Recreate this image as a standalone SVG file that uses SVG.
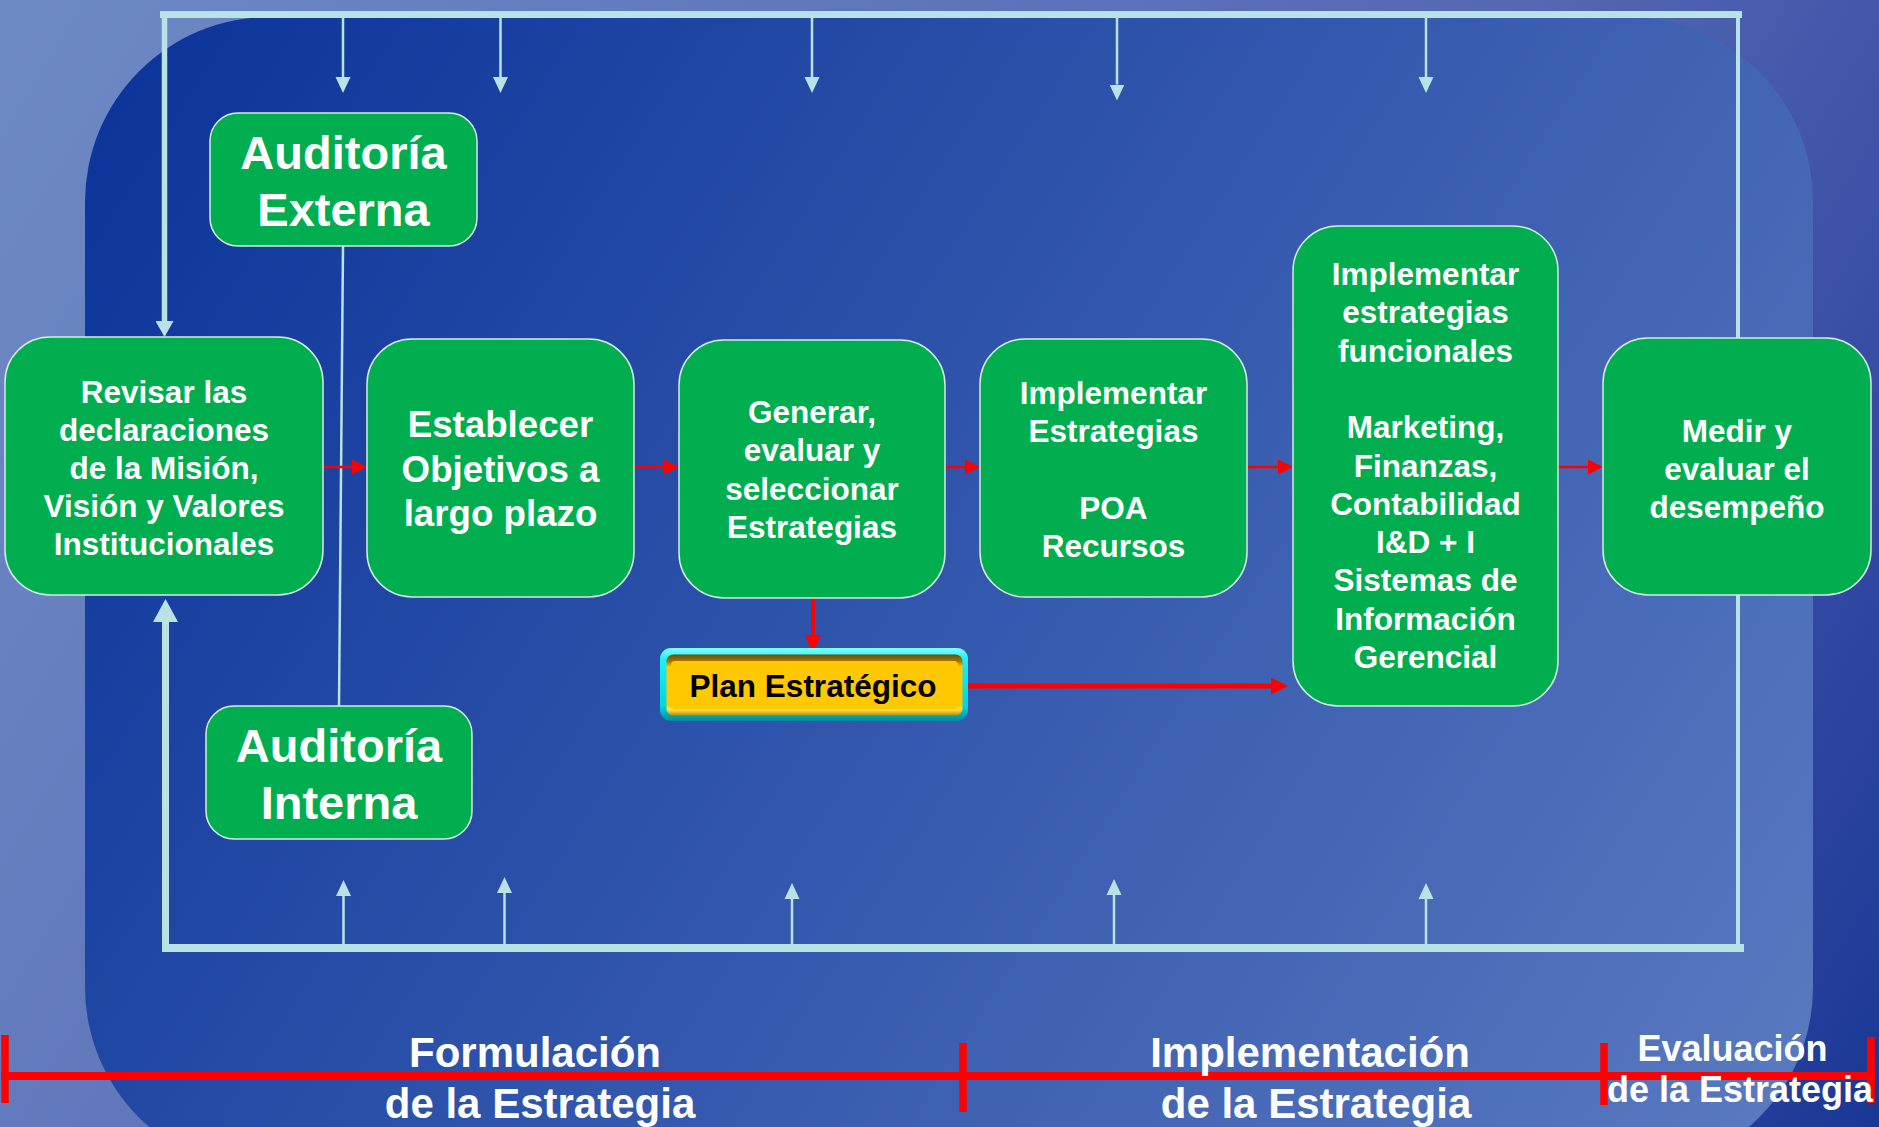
<svg xmlns="http://www.w3.org/2000/svg" width="1879" height="1127" viewBox="0 0 1879 1127">
<defs>
  <linearGradient id="bgOuter" gradientUnits="userSpaceOnUse" x1="0" y1="0" x2="1879" y2="1127">
    <stop offset="0" stop-color="#6e8ac5"/>
    <stop offset="0.6" stop-color="#5468b3"/>
    <stop offset="0.85" stop-color="#3349a3"/>
    <stop offset="1" stop-color="#1a3795"/>
  </linearGradient>
  <linearGradient id="bgInner" gradientUnits="userSpaceOnUse" x1="85" y1="17" x2="1813" y2="1127">
    <stop offset="0" stop-color="#0a3399"/>
    <stop offset="1" stop-color="#5a7ac0"/>
  </linearGradient>
  <linearGradient id="cyanG" x1="0" y1="0" x2="0" y2="1">
    <stop offset="0" stop-color="#80ffff"/>
    <stop offset="0.15" stop-color="#1ef0f2"/>
    <stop offset="0.8" stop-color="#00d6e0"/>
    <stop offset="1" stop-color="#008a9a"/>
  </linearGradient>
  <linearGradient id="goldG" x1="0" y1="0" x2="0" y2="1">
    <stop offset="0" stop-color="#6b4c00"/>
    <stop offset="0.12" stop-color="#a87a00"/>
    <stop offset="0.2" stop-color="#ffc800"/>
    <stop offset="0.84" stop-color="#ffc800"/>
    <stop offset="0.9" stop-color="#ffe650"/>
    <stop offset="1" stop-color="#c08a00"/>
  </linearGradient>
  <marker id="hL" markerUnits="userSpaceOnUse" markerWidth="16" markerHeight="16" viewBox="0 -8 16 16" refX="0" refY="0" orient="auto">
    <path d="M0,-7.5 L16,0 L0,7.5 Z" fill="#b9e2e6"/>
  </marker>
  <marker id="hLbig" markerUnits="userSpaceOnUse" markerWidth="16" markerHeight="18" viewBox="0 -9 16 18" refX="0" refY="0" orient="auto">
    <path d="M0,-9 L16,0 L0,9 Z" fill="#b9e2e6"/>
  </marker>
  <marker id="hLhuge" markerUnits="userSpaceOnUse" markerWidth="23" markerHeight="25" viewBox="0 -12.5 23 25" refX="0" refY="0" orient="auto">
    <path d="M0,-12.5 L23,0 L0,12.5 Z" fill="#b9e2e6"/>
  </marker>
  <marker id="hR" markerUnits="userSpaceOnUse" markerWidth="15" markerHeight="15" viewBox="0 -7.5 15 15" refX="0" refY="0" orient="auto">
    <path d="M0,-7.5 L15,0 L0,7.5 Z" fill="#ff0000"/>
  </marker>
  <marker id="hRbig" markerUnits="userSpaceOnUse" markerWidth="17" markerHeight="17" viewBox="0 -8.5 17 17" refX="0" refY="0" orient="auto">
    <path d="M0,-8.5 L17,0 L0,8.5 Z" fill="#ff0000"/>
  </marker>
</defs>
<style>
  .box { fill:#00ae4f; stroke:#d5ece0; stroke-width:1.5; }
  .t { font-family:"Liberation Sans", Arial, sans-serif; font-weight:bold; fill:#ffffff; text-anchor:middle; }
  .s { font-size:31.5px; }
  .m { font-size:36.7px; }
  .l { font-size:47px; }
  .lab { font-size:42px; }
  .lab2 { font-size:36px; }
  .light { stroke:#b9e2e6; fill:none; }
  .red { stroke:#ff0000; fill:none; }
</style>

<g id="background">
  <rect x="0" y="0" width="1879" height="1127" fill="url(#bgOuter)"/>
  <rect x="85" y="17" width="1728" height="1155" rx="185" ry="185" fill="url(#bgInner)"/>
</g>

<g id="connectors">
  <!-- feedback frame -->
  <line class="light" x1="160" y1="14.5" x2="1742" y2="14.5" stroke-width="7"/>
  <line class="light" x1="1738" y1="14" x2="1738" y2="952" stroke-width="4"/>
  <line class="light" x1="162" y1="948" x2="1744" y2="948" stroke-width="8"/>
  <line class="light" x1="164.5" y1="14" x2="164.5" y2="321" stroke-width="5.5" marker-end="url(#hLbig)"/>
  <line class="light" x1="165.5" y1="952" x2="165.5" y2="622" stroke-width="7" marker-end="url(#hLhuge)"/>
  <!-- down arrows from top bar -->
  <line class="light" x1="343" y1="18" x2="343" y2="77" stroke-width="2.5" marker-end="url(#hL)"/>
  <line class="light" x1="500.5" y1="18" x2="500.5" y2="77" stroke-width="2.5" marker-end="url(#hL)"/>
  <line class="light" x1="812" y1="18" x2="812" y2="77" stroke-width="2.5" marker-end="url(#hL)"/>
  <line class="light" x1="1117" y1="18" x2="1117" y2="84.5" stroke-width="2.5" marker-end="url(#hL)"/>
  <line class="light" x1="1426" y1="18" x2="1426" y2="77" stroke-width="2.5" marker-end="url(#hL)"/>
  <!-- up arrows from bottom bar -->
  <line class="light" x1="343.5" y1="945" x2="343.5" y2="896" stroke-width="2.5" marker-end="url(#hL)"/>
  <line class="light" x1="504.5" y1="945" x2="504.5" y2="893" stroke-width="2.5" marker-end="url(#hL)"/>
  <line class="light" x1="792" y1="945" x2="792" y2="899" stroke-width="2.5" marker-end="url(#hL)"/>
  <line class="light" x1="1114" y1="945" x2="1114" y2="895" stroke-width="2.5" marker-end="url(#hL)"/>
  <line class="light" x1="1426" y1="945" x2="1426" y2="899" stroke-width="2.5" marker-end="url(#hL)"/>
  <!-- audit link -->
  <line class="light" x1="343" y1="246" x2="339" y2="706" stroke-width="2.5"/>
  <!-- process flow -->
  <line class="red" x1="323" y1="467" x2="352" y2="467" stroke-width="2.5" marker-end="url(#hR)"/>
  <line class="red" x1="634" y1="467" x2="664" y2="467" stroke-width="2.5" marker-end="url(#hR)"/>
  <line class="red" x1="945" y1="467" x2="965" y2="467" stroke-width="2.5" marker-end="url(#hR)"/>
  <line class="red" x1="1247" y1="467" x2="1278" y2="467" stroke-width="2.5" marker-end="url(#hR)"/>
  <line class="red" x1="1558" y1="467" x2="1588" y2="467" stroke-width="2.5" marker-end="url(#hR)"/>
  <line class="red" x1="813" y1="598" x2="813" y2="635" stroke-width="4" marker-end="url(#hRbig)"/>
  <line class="red" x1="968" y1="686" x2="1271" y2="686" stroke-width="5" marker-end="url(#hRbig)"/>
</g>

<g id="auditoria-externa">
  <rect class="box" x="210" y="113" width="267" height="133" rx="28"/>
  <text class="t l" x="343.5" y="169">Auditoría</text>
  <text class="t l" x="343.5" y="226">Externa</text>
</g>

<g id="auditoria-interna">
  <rect class="box" x="206" y="706" width="266" height="133" rx="28"/>
  <text class="t l" x="339" y="762">Auditoría</text>
  <text class="t l" x="339" y="819">Interna</text>
</g>

<g id="revisar">
  <rect class="box" x="5" y="337" width="318" height="258" rx="45"/>
  <text class="t s" x="164" y="403">Revisar las</text>
  <text class="t s" x="164" y="441">declaraciones</text>
  <text class="t s" x="164" y="479">de la Misión,</text>
  <text class="t s" x="164" y="517">Visión y Valores</text>
  <text class="t s" x="164" y="555">Institucionales</text>
</g>

<g id="objetivos">
  <rect class="box" x="367" y="339" width="267" height="258" rx="45"/>
  <text class="t m" x="500.5" y="437">Establecer</text>
  <text class="t m" x="500.5" y="481.5">Objetivos a</text>
  <text class="t m" x="500.5" y="525.5">largo plazo</text>
</g>

<g id="generar">
  <rect class="box" x="679" y="340" width="266" height="258" rx="45"/>
  <text class="t s" x="812" y="423">Generar,</text>
  <text class="t s" x="812" y="461">evaluar y</text>
  <text class="t s" x="812" y="499.5">seleccionar</text>
  <text class="t s" x="812" y="538">Estrategias</text>
</g>

<g id="implementar-estrategias">
  <rect class="box" x="980" y="339" width="267" height="258" rx="45"/>
  <text class="t s" x="1113.5" y="404">Implementar</text>
  <text class="t s" x="1113.5" y="442">Estrategias</text>
  <text class="t s" x="1113.5" y="519">POA</text>
  <text class="t s" x="1113.5" y="557">Recursos</text>
</g>

<g id="implementar-funcionales">
  <rect class="box" x="1293" y="226" width="265" height="480" rx="45"/>
  <text class="t s" x="1425.5" y="285">Implementar</text>
  <text class="t s" x="1425.5" y="323.3">estrategias</text>
  <text class="t s" x="1425.5" y="361.6">funcionales</text>
  <text class="t s" x="1425.5" y="438.2">Marketing,</text>
  <text class="t s" x="1425.5" y="476.5">Finanzas,</text>
  <text class="t s" x="1425.5" y="514.8">Contabilidad</text>
  <text class="t s" x="1425.5" y="553.1">I&amp;D + I</text>
  <text class="t s" x="1425.5" y="591.4">Sistemas de</text>
  <text class="t s" x="1425.5" y="629.7">Información</text>
  <text class="t s" x="1425.5" y="668">Gerencial</text>
</g>

<g id="medir">
  <rect class="box" x="1603" y="338" width="268" height="257" rx="45"/>
  <text class="t s" x="1737" y="441.5">Medir y</text>
  <text class="t s" x="1737" y="479.8">evaluar el</text>
  <text class="t s" x="1737" y="518">desempeño</text>
</g>

<g id="plan-estrategico">
  <rect x="660" y="648" width="308" height="73" rx="11" fill="url(#cyanG)"/>
  <rect x="666.5" y="654.5" width="296" height="61" rx="7" fill="url(#goldG)"/>
  <rect x="671" y="661" width="287" height="48" rx="4" fill="#ffc800"/>
  <text x="813" y="697" font-family="Liberation Sans, Arial, sans-serif" font-weight="bold" font-size="31.5" fill="#000000" text-anchor="middle">Plan Estratégico</text>
</g>

<g id="timeline">
  <line class="red" x1="1" y1="1076" x2="1875" y2="1076" stroke-width="8"/>
  <line class="red" x1="5" y1="1035" x2="5" y2="1103" stroke-width="7.5"/>
  <line class="red" x1="963" y1="1043" x2="963" y2="1112" stroke-width="7.5"/>
  <line class="red" x1="1604" y1="1043" x2="1604" y2="1105" stroke-width="7.5"/>
  <line class="red" x1="1871" y1="1037" x2="1871" y2="1103" stroke-width="7.5"/>
  <text class="t lab" x="535" y="1067">Formulación</text>
  <text class="t lab" x="540" y="1118">de la Estrategia</text>
  <text class="t lab" x="1310" y="1067">Implementación</text>
  <text class="t lab" x="1316" y="1118">de la Estrategia</text>
  <text class="t lab2" x="1732.5" y="1061">Evaluación</text>
  <text class="t lab2" x="1740" y="1102">de la Estrategia</text>
</g>
</svg>
